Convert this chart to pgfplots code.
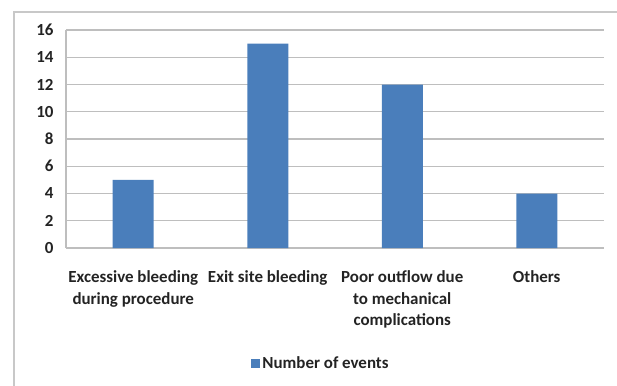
\documentclass[border=0pt]{standalone}
\usepackage{pgfplots}
\pgfplotsset{compat=1.18}
\usepackage{fontspec}
\setmainfont{Carlito}
\definecolor{barblue}{HTML}{4A7EBB}
\definecolor{gridgray}{RGB}{190,190,190}
\definecolor{framegray}{RGB}{200,200,200}
\definecolor{txt}{RGB}{35,35,35}
\begin{document}
\begin{tikzpicture}
\useasboundingbox (-66bp,-138bp) rectangle (551bp,248bp);
\draw[framegray, line width=1.2bp] (-52bp,-140bp) -- (-52bp,236bp) -- (553bp,236bp);
\begin{axis}[
  scale only axis,
  width=538bp, height=218bp,
  xmin=-0.5, xmax=3.5,
  ymin=0, ymax=16,
  ytick={0,2,...,16},
  xtick={0,1,2,3},
  xticklabels={{Excessive bleeding\\during procedure},{Exit site bleeding},{Poor outflow due\\to mechanical\\complications},{Others}},
  xticklabel style={align=center, font=\fontsize{17}{21.7}\selectfont\bfseries, text=txt, yshift=-19bp},
  yticklabel style={font=\fontsize{17}{20}\selectfont\bfseries, text=txt, xshift=-9bp},
  /pgf/number format/assume math mode=true,
  major tick length=0pt,
  ymajorgrids,
  grid style={gridgray, line width=1.2bp},
  axis line style={gridgray, line width=1.2bp},
  axis x line*=bottom,
  axis y line*=left,
  ybar, bar width=41bp,
  legend style={at={(0.474,-0.528)}, anchor=center, draw=none, fill=none,
    font=\fontsize{17}{20}\selectfont\bfseries, text=txt},
  legend image code/.code={\fill[barblue] (0bp,-4.5bp) rectangle (9bp,4.5bp);},
]
\addplot[fill=barblue, draw=none] coordinates {(0,5) (1,15) (2,12) (3,4)};
\addlegendentry{Number of events}
\end{axis}
\end{tikzpicture}
\end{document}
